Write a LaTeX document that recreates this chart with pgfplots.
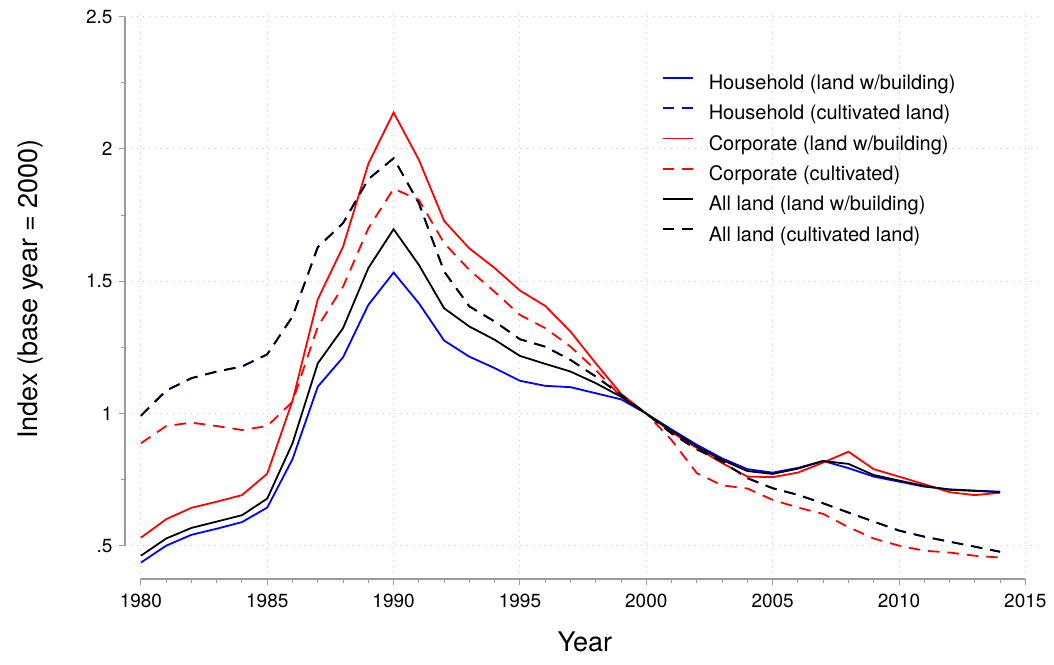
\documentclass[border=0pt]{standalone}
\usepackage{pgfplots}
\pgfplotsset{compat=1.18}
\usepackage{pgfplotstable}
\usepackage{fontspec}
\setmainfont{TeX Gyre Heros}
\definecolor{axgray}{RGB}{155,155,155}
\definecolor{gridgray}{RGB}{200,200,200}

\pgfplotstableread{
year hb hc cb cc ab ac
1980 0.437 0.992 0.531 0.888 0.463 0.992
1981 0.501 1.087 0.601 0.953 0.528 1.087
1982 0.542 1.134 0.644 0.966 0.568 1.134
1983 0.565 1.159 0.667 0.953 0.592 1.159
1984 0.590 1.178 0.692 0.938 0.616 1.178
1985 0.645 1.224 0.773 0.953 0.679 1.224
1986 0.828 1.367 1.049 1.045 0.888 1.367
1987 1.102 1.629 1.432 1.329 1.190 1.629
1988 1.213 1.720 1.631 1.480 1.323 1.720
1989 1.411 1.886 1.944 1.700 1.550 1.886
1990 1.533 1.965 2.138 1.850 1.697 1.965
1991 1.417 1.795 1.959 1.808 1.562 1.795
1992 1.276 1.537 1.728 1.644 1.398 1.537
1993 1.215 1.405 1.624 1.543 1.329 1.405
1994 1.172 1.348 1.550 1.460 1.279 1.348
1995 1.124 1.281 1.465 1.373 1.218 1.281
1996 1.105 1.253 1.407 1.323 1.188 1.253
1997 1.100 1.203 1.310 1.253 1.159 1.203
1998 1.077 1.140 1.190 1.165 1.115 1.140
1999 1.054 1.071 1.075 1.064 1.064 1.071
2000 1.000 1.000 1.000 1.000 1.000 1.000
2001 0.940 0.925 0.930 0.900 0.935 0.925
2002 0.882 0.865 0.870 0.775 0.875 0.865
2003 0.831 0.819 0.813 0.729 0.825 0.819
2004 0.790 0.756 0.762 0.717 0.783 0.756
2005 0.777 0.718 0.760 0.674 0.772 0.718
2006 0.795 0.693 0.777 0.645 0.792 0.693
2007 0.821 0.661 0.815 0.621 0.821 0.661
2008 0.794 0.626 0.856 0.571 0.810 0.626
2009 0.762 0.592 0.790 0.528 0.768 0.592
2010 0.743 0.558 0.762 0.501 0.747 0.558
2011 0.724 0.535 0.733 0.482 0.727 0.535
2012 0.714 0.516 0.703 0.475 0.712 0.516
2013 0.709 0.497 0.692 0.463 0.708 0.497
2014 0.705 0.478 0.701 0.456 0.703 0.478
}\landdata

\begin{document}
\begin{tikzpicture}
\path[use as bounding box] (0,0) rectangle (1054pt,664pt);
\begin{axis}[
  at={(125pt,85pt)}, anchor=south west,
  scale only axis,
  width=916pt, height=567.6pt,
  xmin=1979.37, xmax=2015.62,
  ymin=0.375, ymax=2.52,
  axis lines*=left,
  axis line style={draw=none},
  tick align=outside,
  major tick length=6pt,
  minor tick length=4pt,
  tick style={color=axgray, line width=1pt},
  xtick={1980,1985,1990,1995,2000,2005,2010,2015},
  xticklabels={1980,1985,1990,1995,2000,2005,2010,2015},
  ytick={0.5,1,1.5,2,2.5},
  yticklabels={.5,1,1.5,2,2.5},
  minor x tick num=4,
  minor y tick num=1,
  grid=major,
  major grid style={color=gridgray, line width=1pt, dash pattern=on 1pt off 5pt},
  ticklabel style={font=\fontsize{19}{22}\selectfont, text=black},
  xticklabel style={yshift=-5pt},
  yticklabel style={xshift=-3pt},
  xlabel={Year},
  ylabel={Index (base year = 2000)},
  label style={font=\fontsize{27}{32}\selectfont},
  xlabel style={at={(axis description cs:0.502,-0.1286)}, anchor=base},
  ylabel style={at={(axis description cs:-0.1026,0.511)}, anchor=center, rotate=0},
  legend style={at={(0.5862,0.8888)}, anchor=north west, draw=none, fill=none,
    inner sep=0pt, outer sep=0pt, font=\fontsize{20}{24}\selectfont,
    row sep=10.3pt, column sep=15pt,
    nodes={inner sep=0pt, text height=15pt, text depth=5pt}},
  legend cell align=left,
  legend image code/.code={\draw[#1] (0pt,6.7pt) -- (30pt,6.7pt);},
  every axis plot/.append style={line width=1.8pt},
  clip=false,
]
\addplot[color=blue, solid] table[x=year,y=hb] {\landdata};
\addlegendentry{Household (land w/building)}
\addplot[color=blue, dash pattern=on 11.5pt off 8pt] table[x=year,y=hc] {\landdata};
\addlegendentry{Household (cultivated land)}
\addplot[color=red, solid] table[x=year,y=cb] {\landdata};
\addlegendentry{Corporate (land w/building)}
\addplot[color=red, dash pattern=on 11.5pt off 8pt] table[x=year,y=cc] {\landdata};
\addlegendentry{Corporate (cultivated)}
\addplot[color=black, solid] table[x=year,y=ab] {\landdata};
\addlegendentry{All land (land w/building)}
\addplot[color=black, dash pattern=on 11.5pt off 8pt] table[x=year,y=ac] {\landdata};
\addlegendentry{All land (cultivated land)}
\draw[axgray, line width=1.2pt] (axis cs:1979.37,0.5) -- (axis cs:1979.37,2.5);
\draw[axgray, line width=1.2pt] (axis cs:1980,0.375) -- (axis cs:2015,0.375);
\end{axis}
\end{tikzpicture}
\end{document}
